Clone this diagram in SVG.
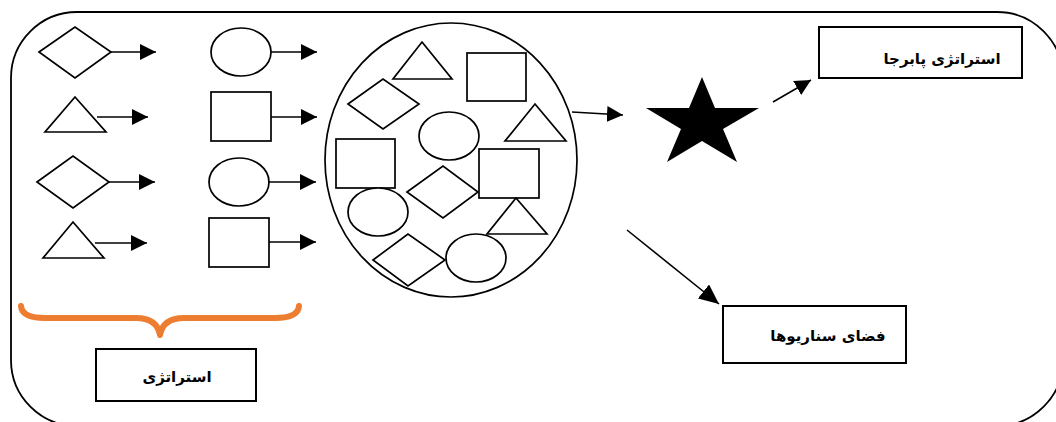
<svg xmlns="http://www.w3.org/2000/svg" width="1056" height="422" viewBox="0 0 1056 422">
<defs>
<marker id="ah" viewBox="0 0 16 16" refX="16" refY="8" markerWidth="16" markerHeight="16" markerUnits="userSpaceOnUse" orient="auto">
<path d="M0,0 L16,8 L0,16 z" fill="#000"/>
</marker>
<marker id="ahL" viewBox="0 0 16 16" refX="16" refY="8" markerWidth="20" markerHeight="18" markerUnits="userSpaceOnUse" orient="auto" preserveAspectRatio="none">
<path d="M0,0 L16,8 L0,16 z" fill="#000"/>
</marker>
</defs>
<style>
.s{fill:#fff;stroke:#000;stroke-width:1.7}
.c{stroke:#000;stroke-width:1.6;fill:none;marker-end:url(#ah)}
.box{fill:#fff;stroke:#000;stroke-width:2}
.t{font-family:"DejaVu Sans",sans-serif;font-weight:bold;font-size:15px;fill:#000;text-anchor:middle}
</style>
<rect width="1056" height="422" fill="#fff"/>
<rect id="frame" x="11" y="12" width="1052" height="414" rx="66" ry="66" fill="none" stroke="#000" stroke-width="1.8"/>

<g id="strategies-col1">
<polygon class="s" points="39,52 75,27 111,52 75,78"/>
<polygon class="s" points="75,97 106,132 45,132"/>
<polygon class="s" points="37,182 73,156 109,182 73,208"/>
<polygon class="s" points="73,222 104,258 43,258"/>
</g>
<g id="strategies-col2">
<ellipse class="s" cx="241" cy="52" rx="30" ry="24"/>
<rect class="s" x="211" y="92" width="60" height="49"/>
<ellipse class="s" cx="239" cy="182" rx="30" ry="24"/>
<rect class="s" x="209" y="218" width="60" height="49"/>
</g>

<g id="scenario-space">
<ellipse class="s" cx="451" cy="160" rx="126" ry="137"/>
<polygon class="s" points="422,42 452,79 393,79"/>
<rect class="s" x="467" y="53" width="59" height="48"/>
<polygon class="s" points="348,104 383,79 419,104 383,129"/>
<ellipse class="s" cx="449" cy="136" rx="30" ry="24"/>
<polygon class="s" points="535,104 566,141 505,141"/>
<rect class="s" x="336" y="139" width="59" height="49"/>
<polygon class="s" points="407,192 443,166 478,192 443,218"/>
<rect class="s" x="479" y="149" width="60" height="49"/>
<ellipse class="s" cx="378" cy="212" rx="30" ry="24"/>
<polygon class="s" points="516,198 547,234 487,234"/>
<polygon class="s" points="373,260 408,234 445,260 408,286"/>
<ellipse class="s" cx="476" cy="258" rx="30" ry="24"/>
</g>

<g id="star">
<polygon fill="#000" points="702,77 715,108 759,108 723,129 737,162 702,141 667,162 681,129 646,108 689,108"/>
</g>

<g id="connectors">
<line class="c" x1="111" y1="52" x2="156" y2="52"/>
<line class="c" x1="97" y1="117" x2="148" y2="117"/>
<line class="c" x1="109" y1="182" x2="155" y2="182"/>
<line class="c" x1="95" y1="243" x2="147" y2="243"/>
<line class="c" x1="271" y1="52" x2="317" y2="52"/>
<line class="c" x1="271" y1="117" x2="317" y2="117"/>
<line class="c" x1="268" y1="182" x2="316" y2="182"/>
<line class="c" x1="269" y1="242" x2="316" y2="242"/>
<line class="c" x1="572" y1="112" x2="623" y2="115"/>
<line class="c" x1="773" y1="102" x2="811" y2="80"/>
<line class="c" x1="627" y1="230" x2="719" y2="304" style="marker-end:url(#ahL)"/>
</g>

<g id="brace">
<path d="M21,306 Q22,318 45,318 L136,318 Q157,318 160,335 Q163,318 184,318 L275,318 Q298,318 299,306" fill="none" stroke="#ED7D31" stroke-width="6" stroke-linecap="round" stroke-linejoin="round"/>
</g>

<g id="robust-strategy">
<rect class="box" x="819" y="27" width="203" height="51"/>
<text class="t" x="942" y="64">استراتژی پابرجا</text>
</g>
<g id="scenario-box">
<rect class="box" x="723" y="306" width="183" height="57"/>
<text class="t" x="828" y="341">فضای سناریوها</text>
</g>
<g id="strategy-box">
<rect class="box" x="96" y="349" width="160" height="52"/>
<text class="t" x="177" y="382">استراتژی</text>
</g>
</svg>
